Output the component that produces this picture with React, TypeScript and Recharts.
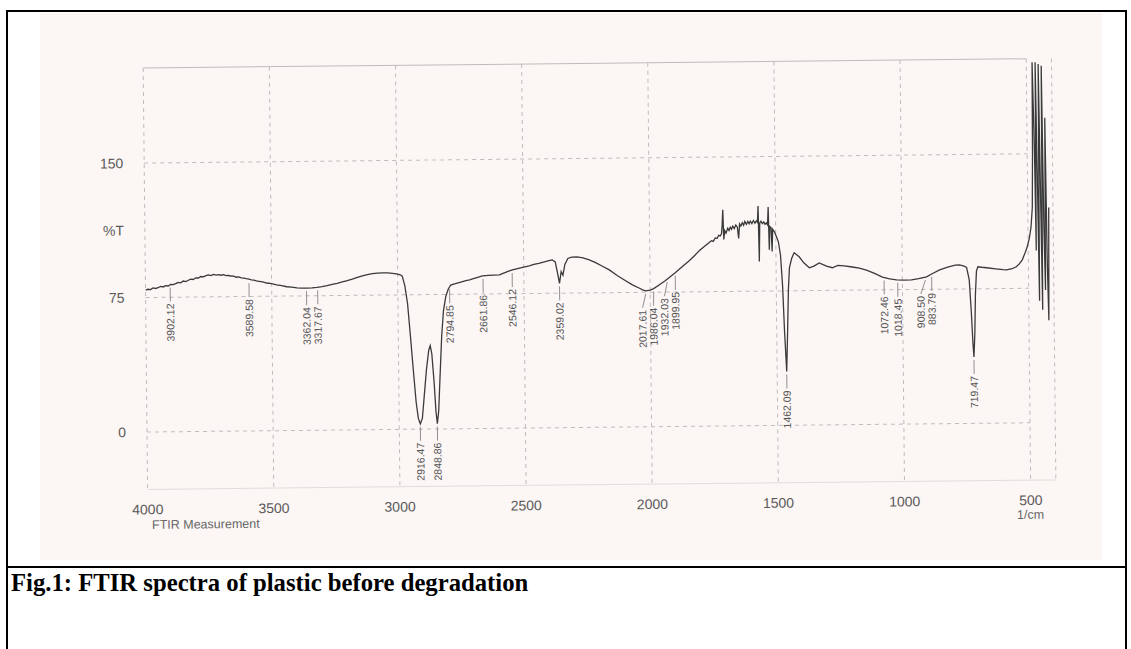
import React from 'react';
import { ComposedChart, Line, Scatter, XAxis, YAxis, CartesianGrid, ReferenceLine } from 'recharts';

// Spectrum, as [wavenumber 1/cm, %T]
const OH_REGION: [number, number][] = [
  [4000, 79.2], [3990, 79.6], [3980, 79.4], [3970, 80.3], [3960, 80.0], [3950, 80.4], [3940, 81.1], [3930, 80.8],
  [3920, 81.5], [3910, 81.3], [3900, 82.2], [3890, 82.0], [3880, 82.6], [3870, 83.3], [3860, 83.0], [3850, 84.0],
  [3840, 83.7], [3830, 84.4], [3820, 85.0], [3810, 84.8], [3800, 85.7], [3790, 85.6], [3780, 86.4], [3770, 86.2],
  [3760, 86.9], [3750, 87.3], [3740, 86.9], [3730, 87.5], [3720, 87.1], [3710, 87.3], [3700, 87.0], [3690, 87.3],
  [3680, 86.7], [3670, 86.8], [3660, 86.5], [3650, 86.4], [3640, 85.8], [3630, 86.0], [3620, 85.4], [3610, 85.3],
  [3600, 84.9], [3590, 84.7], [3580, 84.2], [3570, 84.1], [3560, 83.6], [3550, 83.4], [3535, 83.1], [3520, 82.4],
  [3500, 82.0], [3480, 81.3], [3460, 80.9], [3440, 80.2], [3420, 79.9], [3400, 79.5], [3380, 79.3], [3360, 79.3],
  [3340, 79.4], [3320, 79.7], [3300, 80.1], [3280, 80.6], [3260, 81.2], [3240, 81.8], [3220, 82.6], [3200, 83.3],
  [3180, 84.1], [3160, 85.0], [3140, 85.8], [3120, 86.5], [3100, 87.0], [3080, 87.3], [3060, 87.4], [3040, 87.3],
  [3020, 87.0], [3000, 86.6], [2990, 86.2], [2982, 85.4],
];

const CH_REGION: [number, number][] = [
  [2972, 80], [2962, 70], [2952, 52], [2942, 33], [2932, 15], [2924, 6], [2916.47, 3], [2908, 6],
  [2900, 18], [2890, 33], [2880, 44], [2874, 46.5], [2868, 42], [2860, 26], [2854, 10], [2848.86, 3],
  [2843, 10], [2836, 30], [2828, 52], [2820, 66], [2810, 74], [2800, 78], [2790, 80.2], [2775, 80.8],
];

const MID_REGION: [number, number][] = [
  [2750, 81.8], [2730, 82.5], [2715, 82.9], [2700, 83.6], [2680, 84.5], [2664, 85.1], [2640, 85.4], [2620, 85.5],
  [2597, 85.6], [2580, 86.5], [2560, 87.6], [2545, 88.3], [2525, 89.0], [2500, 89.8], [2478, 90.4], [2460, 91.2],
  [2440, 91.8], [2418, 92.6], [2400, 93.2], [2387, 93.6], [2375, 92.5], [2366, 86], [2359.02, 80.5], [2352, 87],
  [2345, 85], [2337, 91], [2325, 94.3], [2310, 95.0], [2288, 95.1], [2265, 94.6], [2240, 93.4], [2215, 91.8],
  [2190, 89.9], [2161, 87.7], [2130, 84.5], [2100, 81.8], [2070, 79.2], [2042, 77.3], [2030, 76.4], [2017.61, 75.8],
  [2000, 76.2], [1986, 77.0], [1963, 79.1], [1940, 81.3], [1920, 83.5], [1900, 85.7], [1870, 89.3], [1844, 92.3],
  [1824, 95.0], [1804, 97.8], [1785, 100.0], [1765, 102.2], [1755, 103.4], [1748, 103.0], [1740, 104.9], [1733, 104.6],
  [1726, 106.3], [1720, 106.0], [1715, 107.2], [1712, 112], [1709, 120.5], [1706, 104], [1702, 109], [1697, 107.5],
  [1690, 110.2], [1685, 109.0], [1680, 110.8], [1675, 109.6], [1670, 111.4], [1664, 110.0], [1658, 112.0], [1652, 110.9],
  [1647, 104.5], [1643, 112.6], [1638, 111.4], [1632, 113.2], [1627, 111.8], [1622, 113.9], [1616, 112.3], [1610, 113.9],
  [1605, 112.6], [1600, 114.1], [1594, 112.7], [1588, 114.4], [1582, 112.9], [1576, 114.2], [1572, 113.4], [1569, 122.5],
  [1566, 91.5], [1563, 113.0], [1558, 114.0], [1553, 112.6], [1547, 113.6], [1542, 112.2], [1537, 113.0], [1532, 111.9],
  [1529, 121.8], [1526, 98], [1523, 111.0], [1518, 110.3], [1515, 97], [1512, 109.4],
];

const FINGERPRINT_REGION: [number, number][] = [
  [1505, 108.0], [1498, 105.5], [1490, 102.5], [1482, 95], [1475, 78], [1469, 52], [1462.09, 30], [1457, 52],
  [1452, 76], [1447, 88], [1438, 93], [1428, 96.2], [1418, 95.0], [1408, 93.9], [1390, 90.5], [1368, 87.7],
  [1350, 88.6], [1329, 90.4], [1300, 88.5], [1277, 87.6], [1255, 88.9], [1230, 88.6], [1198, 87.9], [1170, 87.2],
  [1142, 86.1], [1110, 84.2], [1079, 82.1], [1050, 81.0], [1023, 80.5], [995, 80.3], [964, 80.4], [935, 81.0],
  [904, 82.0], [880, 83.8], [852, 85.8], [820, 87.3], [790, 88.3], [773, 88.5], [755, 87.8], [745, 87.0],
  [735, 80], [728, 62], [723, 45], [719.47, 37], [715, 50], [711, 72], [706, 85], [700, 87.3],
  [685, 87.0], [666, 86.7], [630, 86.0], [600, 85.5], [587, 85.4], [565, 86.0], [548, 87.1], [535, 88.8],
  [524, 90.9], [512, 95], [504, 98.0], [495, 103], [488, 109.1], [482, 120], [479, 150], [477, 201],
  [471, 150], [468, 96], [465, 201], [461, 140], [457, 68], [453, 200], [449, 130], [445, 63],
  [441, 199], [437, 110], [433, 74], [429, 170], [425, 90], [421, 57], [417, 120],
];

// Peak table printed under the curve
const PEAK_WN = [
  3902.12, 3589.58, 3362.04, 3317.67, 2916.47, 2848.86, 2794.85, 2661.86, 2546.12, 2359.02,
  2017.61, 1986.04, 1932.03, 1899.95, 1462.09, 1072.46, 1018.45, 908.5, 883.79, 719.47,
];
const PEAK_T = [
  82.1, 84.1, 79.3, 79.7, 3, 3, 79.5, 85.1, 88.2, 80.5,
  75.8, 77.0, 82.2, 85.7, 30, 81.9, 80.5, 81.9, 83.6, 37,
];
const PEAK_LABELS = [
  '3902.12', '3589.58', '3362.04', '3317.67', '2916.47', '2848.86', '2794.85', '2661.86', '2546.12', '2359.02',
  '2017.61', '1986.04', '1932.03', '1899.95', '1462.09', '1072.46', '1018.45', '908.50', '883.79', '719.47',
];

const X_TICKS = [4000, 3500, 3000, 2500, 2000, 1500, 1000, 500];
const Y_TICKS = [0, 75, 112.5, 150];
const Y_TICK_LABELS = ['0', '75', '%T', '150'];

const spectrum = [...OH_REGION, ...CH_REGION, ...MID_REGION, ...FINGERPRINT_REGION].map(([wn, t]) => ({ wn, t }));
const peaks = PEAK_WN.map((wn, i) => ({ wn, t: PEAK_T[i], label: PEAK_LABELS[i] }));

// layout
const CHART_W = 1100;
const CHART_H = 540;
const PLOT_LEFT = 147;
const PLOT_TOP = 68;
const PLOT_RIGHT = 1055.3;
const PLOT_BOTTOM = 489.4;
const Y_AXIS_W = 40;
const X_AXIS_H = 30;
const X_MIN = 400;
const X_MAX = 4000;
const PX_PER_WN = (PLOT_RIGHT - PLOT_LEFT) / (X_MAX - X_MIN);

// push crowded labels to the left so they do not overlap
const MIN_GAP = 11;
const labelShift: number[] = new Array(PEAK_WN.length).fill(0);
{
  let prev = Infinity;
  for (let i = PEAK_WN.length - 1; i >= 0; i--) {
    const x = (X_MAX - PEAK_WN[i]) * PX_PER_WN;
    const placed = Math.min(x, prev - MIN_GAP);
    labelShift[i] = placed - x;
    prev = placed;
  }
}

const GRID = '#bdbdbd';
const TEXT = '#5a5a5a';

function PeakMark(props: any) {
  const { cx, cy, payload } = props;
  if (cx == null || cy == null) return null;
  const i = PEAK_LABELS.indexOf(payload.label);
  const lx = cx + labelShift[i];
  const top = cy + 19;
  return (
    <g>
      <line x1={cx} y1={cy + 3} x2={lx} y2={top - 2} stroke="#777" strokeWidth={0.8} />
      <text
        x={lx}
        y={top}
        transform={`rotate(-90 ${lx} ${top})`}
        textAnchor="end"
        dy="0.35em"
        fontSize={10.5}
        fill="#555"
        fontFamily='"Liberation Sans", Arial, sans-serif'
      >
        {payload.label}
      </text>
    </g>
  );
}

export default function App() {
  const hLine = (y: number, dashed = true) => (
    <ReferenceLine
      key={`h-${y}`}
      segment={[{ x: X_MAX, y }, { x: 500, y }]}
      stroke={GRID}
      strokeWidth={1}
      strokeDasharray={dashed ? '4 4' : undefined}
    />
  );

  return (
    <div
      style={{
        position: 'absolute',
        left: 0,
        top: 0,
        width: 1131,
        height: 649,
        background: '#ffffff',
        overflow: 'hidden',
        fontFamily: '"Liberation Sans", Arial, sans-serif',
      }}
    >
      {/* scanned area */}
      <div style={{ position: 'absolute', left: 40, top: 13, width: 1062, height: 547, background: '#fcf6f5' }} />

      {/* chart, slightly skewed like the scan */}
      <div
        style={{
          position: 'absolute',
          left: 0,
          top: 0,
          width: 1131,
          height: 560,
          transform: 'rotate(-0.6deg)',
          transformOrigin: '147px 432px',
        }}
      >
        <ComposedChart
          width={CHART_W}
          height={CHART_H}
          margin={{
            top: PLOT_TOP,
            right: CHART_W - PLOT_RIGHT,
            left: PLOT_LEFT - Y_AXIS_W,
            bottom: CHART_H - PLOT_BOTTOM - X_AXIS_H,
          }}
        >
          <CartesianGrid horizontal={false} stroke={GRID} strokeDasharray="4 4" />
          <XAxis
            type="number"
            dataKey="wn"
            domain={[X_MIN, X_MAX]}
            reversed
            ticks={X_TICKS}
            height={X_AXIS_H}
            tickSize={0}
            tickMargin={15}
            axisLine={{ stroke: '#dedede' }}
            tick={{ fontSize: 14, fill: TEXT }}
            allowDataOverflow
          />
          <YAxis
            type="number"
            domain={[-32, 203]}
            ticks={Y_TICKS}
            tickFormatter={(v) => Y_TICK_LABELS[Y_TICKS.indexOf(v)]}
            width={Y_AXIS_W}
            tickSize={0}
            tickMargin={21}
            axisLine={false}
            tick={{ fontSize: 14, fill: TEXT }}
            allowDataOverflow
          />
          {hLine(203, false)}
          {hLine(150)}
          {hLine(75)}
          {hLine(0)}
          <Line
            data={spectrum}
            dataKey="t"
            type="linear"
            stroke="#3a3a3a"
            strokeWidth={1.3}
            dot={false}
            activeDot={false}
            isAnimationActive={false}
          />
          <Scatter data={peaks} dataKey="t" shape={PeakMark} isAnimationActive={false} />
        </ComposedChart>
        <div style={{ position: 'absolute', left: 151, top: 518, fontSize: 12.5, color: '#666' }}>FTIR Measurement</div>
        <div style={{ position: 'absolute', left: 1016, top: 517, fontSize: 12.5, color: '#666' }}>1/cm</div>
      </div>

      {/* page frame and caption */}
      <div style={{ position: 'absolute', left: 6, top: 10, width: 1121, height: 2, background: '#000' }} />
      <div style={{ position: 'absolute', left: 6, top: 10, width: 2, height: 660, background: '#000' }} />
      <div style={{ position: 'absolute', left: 1125, top: 10, width: 2, height: 660, background: '#000' }} />
      <div style={{ position: 'absolute', left: 6, top: 566, width: 1121, height: 2, background: '#000' }} />
      <div
        style={{
          position: 'absolute',
          left: 11,
          top: 569,
          fontFamily: '"Liberation Serif", "Times New Roman", serif',
          fontWeight: 'bold',
          fontSize: 24.7,
          color: '#000',
          whiteSpace: 'nowrap',
        }}
      >
        Fig.1: FTIR spectra of plastic before degradation
      </div>
    </div>
  );
}
